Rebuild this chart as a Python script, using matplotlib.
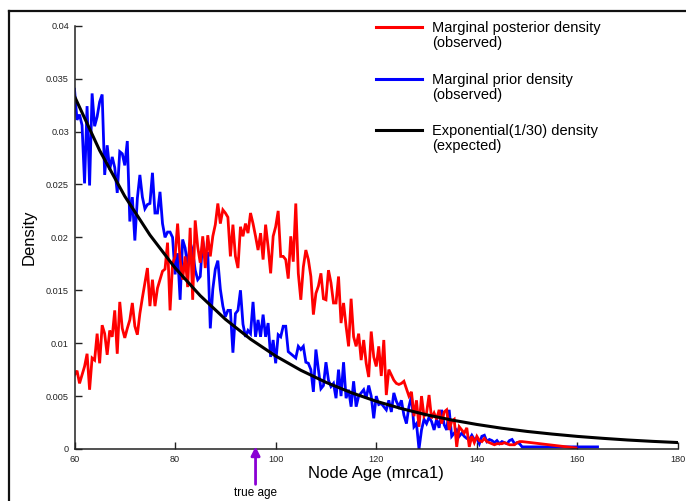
import numpy as np
import matplotlib.pyplot as plt
from matplotlib.lines import Line2D

plt.rcParams['font.family'] = ['Liberation Sans', 'DejaVu Sans']

# histogram bins start at 60, 0.5 wide
bin_start = 60.0
bin_width = 0.5

# marginal prior density (blue)
prior_density = [
    0.0340, 0.0311, 0.0316, 0.0306, 0.0251, 0.0324, 0.0249, 0.0336, 0.0305, 0.0314,
    0.0328, 0.0335, 0.0259, 0.0287, 0.0264, 0.0276, 0.0266, 0.0242, 0.0281, 0.0279,
    0.0268, 0.0291, 0.0215, 0.0238, 0.0197, 0.0237, 0.0259, 0.0238, 0.0227, 0.0231,
    0.0232, 0.0261, 0.0223, 0.0223, 0.0243, 0.0213, 0.0200, 0.0205, 0.0205, 0.0200,
    0.0165, 0.0185, 0.0141, 0.0198, 0.0190, 0.0172, 0.0195, 0.0187, 0.0169, 0.0160,
    0.0163, 0.0197, 0.0183, 0.0186, 0.0114, 0.0151, 0.0170, 0.0178, 0.0151, 0.0135,
    0.0125, 0.0131, 0.0131, 0.0091, 0.0128, 0.0131, 0.0150, 0.0118, 0.0106, 0.0112,
    0.0109, 0.0139, 0.0106, 0.0122, 0.0106, 0.0127, 0.0106, 0.0119, 0.0087, 0.0103,
    0.0081, 0.0108, 0.0106, 0.0116, 0.0116, 0.0092, 0.0090, 0.0088, 0.0086, 0.0097,
    0.0094, 0.0097, 0.0082, 0.0081, 0.0075, 0.0054, 0.0094, 0.0075, 0.0057, 0.0060,
    0.0082, 0.0065, 0.0059, 0.0062, 0.0048, 0.0075, 0.0050, 0.0082, 0.0048, 0.0056,
    0.0040, 0.0064, 0.0040, 0.0050, 0.0053, 0.0056, 0.0048, 0.0060, 0.0050, 0.0029,
    0.0050, 0.0042, 0.0043, 0.0040, 0.0037, 0.0046, 0.0035, 0.0053, 0.0045, 0.0040,
    0.0046, 0.0032, 0.0024, 0.0040, 0.0050, 0.0021, 0.0024, 0.0000, 0.0018, 0.0028,
    0.0024, 0.0030, 0.0026, 0.0018, 0.0028, 0.0020, 0.0037, 0.0023, 0.0018, 0.0037,
    0.0012, 0.0015, 0.0018, 0.0012, 0.0015, 0.0012, 0.0010, 0.0009, 0.0013, 0.0009,
    0.0010, 0.0005, 0.0012, 0.0013, 0.0007, 0.0009, 0.0008, 0.0006, 0.0008, 0.0005,
    0.0007, 0.0006, 0.0005, 0.0008, 0.0009, 0.0005, 0.0006, 0.0005, 0.0002,
]
prior_tail_age = [164.0]
prior_tail_density = [0.0002]

# marginal posterior density (red)
posterior_density = [
    0.0070, 0.0074, 0.0062, 0.0070, 0.0078, 0.0090, 0.0056, 0.0086, 0.0084, 0.0109,
    0.0081, 0.0117, 0.0109, 0.0089, 0.0112, 0.0106, 0.0131, 0.0090, 0.0139, 0.0114,
    0.0105, 0.0114, 0.0122, 0.0138, 0.0116, 0.0108, 0.0128, 0.0143, 0.0157, 0.0171,
    0.0135, 0.0160, 0.0135, 0.0152, 0.0160, 0.0168, 0.0170, 0.0195, 0.0131, 0.0175,
    0.0182, 0.0213, 0.0179, 0.0160, 0.0182, 0.0153, 0.0209, 0.0141, 0.0216, 0.0191,
    0.0176, 0.0201, 0.0171, 0.0202, 0.0182, 0.0201, 0.0212, 0.0232, 0.0213, 0.0226,
    0.0223, 0.0219, 0.0182, 0.0212, 0.0182, 0.0171, 0.0210, 0.0201, 0.0213, 0.0204,
    0.0223, 0.0213, 0.0201, 0.0188, 0.0204, 0.0179, 0.0212, 0.0191, 0.0166, 0.0201,
    0.0210, 0.0225, 0.0182, 0.0182, 0.0179, 0.0161, 0.0201, 0.0177, 0.0232, 0.0166,
    0.0141, 0.0172, 0.0188, 0.0179, 0.0163, 0.0127, 0.0147, 0.0154, 0.0166, 0.0142,
    0.0141, 0.0169, 0.0157, 0.0138, 0.0138, 0.0163, 0.0119, 0.0138, 0.0116, 0.0097,
    0.0142, 0.0106, 0.0097, 0.0109, 0.0084, 0.0103, 0.0081, 0.0068, 0.0111, 0.0087,
    0.0078, 0.0097, 0.0069, 0.0103, 0.0051, 0.0075, 0.0070, 0.0065, 0.0062, 0.0061,
    0.0062, 0.0064, 0.0057, 0.0050, 0.0054, 0.0031, 0.0046, 0.0021, 0.0050, 0.0031,
    0.0034, 0.0051, 0.0029, 0.0034, 0.0028, 0.0037, 0.0024, 0.0035, 0.0037, 0.0018,
    0.0026, 0.0028, 0.0002, 0.0021, 0.0018, 0.0015, 0.0020, 0.0002, 0.0012, 0.0006,
    0.0012, 0.0008, 0.0007, 0.0010, 0.0007, 0.0006, 0.0005, 0.0004, 0.0005, 0.0005,
    0.0005, 0.0006, 0.0005, 0.0004, 0.0004, 0.0004, 0.0006, 0.0007, 0.0007,
]
posterior_tail_age = [159.7]
posterior_tail_density = [0.0001]

# expected Exponential(1/30) density (black), read every 5 units
expected_age = [60, 65, 70, 75, 80, 85, 90, 95, 100, 105, 110, 115, 120,
                125, 130, 135, 140, 145, 150, 155, 160, 165, 170, 175, 180]
expected_density = [0.03333, 0.02821, 0.02388, 0.02022, 0.01711, 0.01449, 0.01226,
                    0.01038, 0.00879, 0.00744, 0.00630, 0.00533, 0.00451, 0.00382,
                    0.00323, 0.00274, 0.00232, 0.00196, 0.00166, 0.00141, 0.00119,
                    0.00101, 0.00085, 0.00072, 0.00061]

true_age = 96

x_ticks = [60, 80, 100, 120, 140, 160, 180]
y_ticks = [0, 0.005, 0.01, 0.015, 0.02, 0.025, 0.03, 0.035, 0.04]
y_tick_labels = ['0', '0.005', '0.01', '0.015', '0.02', '0.025', '0.03', '0.035', '0.04']

legend_labels = ['Marginal posterior density\n(observed)',
                 'Marginal prior density\n(observed)',
                 'Exponential(1/30) density\n(expected)']
legend_colors = ['#ff0000', '#0000ff', '#000000']


prior_age = np.concatenate([bin_start + bin_width * np.arange(len(prior_density)), prior_tail_age])
prior_y = np.concatenate([prior_density, prior_tail_density])
post_age = np.concatenate([bin_start + bin_width * np.arange(len(posterior_density)), posterior_tail_age])
post_y = np.concatenate([posterior_density, posterior_tail_density])

W, H = 686, 501
fig = plt.figure(figsize=(W / 100, H / 100), dpi=100)
ax = fig.add_axes([74.5 / W, 1 - 449 / H, 603.5 / W, 423.3 / H])

ax.plot(prior_age, prior_y, color='#0000ff', lw=2.0, solid_joinstyle='miter')
ax.plot(post_age, post_y, color='#ff0000', lw=2.0, solid_joinstyle='miter')
ax.plot(expected_age, expected_density, color='black', lw=2.2)

ax.set_xlim(60, 180)
ax.set_ylim(0, 0.04)
ax.set_xticks(x_ticks)
ax.set_xticklabels([str(t) for t in x_ticks])
ax.set_yticks(y_ticks)
ax.set_yticklabels(y_tick_labels)
ax.tick_params(direction='in', length=5, width=1, labelsize=6.6, colors='#222222', pad=4)

for s in ['top', 'right']:
    ax.spines[s].set_visible(False)
for s in ['left', 'bottom']:
    ax.spines[s].set_linewidth(1.1)
    ax.spines[s].set_color('#222222')

ax.set_xlabel('Node Age (mrca1)', fontsize=12, labelpad=2)
ax.set_ylabel('Density', fontsize=12, labelpad=7)

# true age arrow under the axis
ax.annotate('', xy=(true_age, 0.0005), xytext=(true_age, -0.0036),
            arrowprops=dict(arrowstyle='-|>', color='#8a00d4', lw=2, mutation_scale=13),
            annotation_clip=False)
ax.text(true_age, -0.0036, 'true age', ha='center', va='top', fontsize=8.5, clip_on=False)

# legend drawn by hand, line level with first text line
legend_rows = [27, 79, 130]
for py, lab, col in zip(legend_rows, legend_labels, legend_colors):
    y = 1 - py / H
    fig.add_artist(Line2D([376 / W, 422 / W], [y, y], transform=fig.transFigure,
                          color=col, lw=2.2))
    fig.text(432 / W, 1 - (py - 6) / H, lab, ha='left', va='top', fontsize=10.5,
             linespacing=1.12)

# outer frame (top and left edges)
fig.add_artist(Line2D([9 / W, 1], [1 - 11 / H, 1 - 11 / H], transform=fig.transFigure,
                      color='#111111', lw=1.6))
fig.add_artist(Line2D([9 / W, 9 / W], [1 - 11 / H, 0], transform=fig.transFigure,
                      color='#111111', lw=1.6))

fig.savefig('out.png', dpi=100)
